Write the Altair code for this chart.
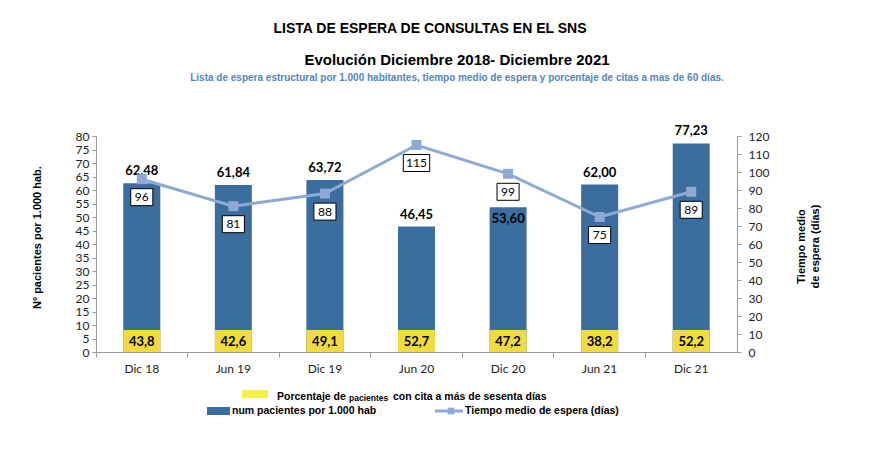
import altair as alt
import pandas as pd

categorias = ["Dic 18", "Jun 19", "Dic 19", "Jun 20", "Dic 20", "Jun 21", "Dic 21"]
pacientes = [62.48, 61.84, 63.72, 46.45, 53.60, 62.00, 77.23]
tiempo = [96, 81, 88, 115, 99, 75, 89]
porcentaje = [43.8, 42.6, 49.1, 52.7, 47.2, 38.2, 52.2]

df = pd.DataFrame({
    "cat": categorias,
    "pac": pacientes,
    "t": tiempo,
    "pct": porcentaje,
})
df["pac_lbl"] = [f"{v:.2f}".replace(".", ",") for v in pacientes]
df["pct_lbl"] = [f"{v:.1f}".replace(".", ",") for v in porcentaje]
df["t_lbl"] = [str(v) for v in tiempo]

BAR = "#3B6E9F"
YEL = "#F2DB3C"
LINE = "#8EA9D3"
AXC = "#9A9A9A"
LBLF = "Lato"
TXTF = "Liberation Sans"

xenc = alt.X("cat:N", sort=categorias, title=None,
             scale=alt.Scale(paddingInner=0, paddingOuter=0),
             axis=alt.Axis(labelAngle=0, labelFont=LBLF, labelFontSize=12, labelColor="#222",
                           labelPadding=6, domainColor=AXC, tickColor=AXC, tickSize=5,
                           bandPosition=0, grid=False))

yleft = alt.Y("pac:Q", scale=alt.Scale(domain=[0, 80]),
              axis=alt.Axis(values=list(range(0, 81, 5)), title="Nº pacientes por 1.000 hab.",
                            titleFont=TXTF, titleFontSize=11, titleFontWeight="bold",
                            titleColor="#000", titleAngle=270, titleX=-59, titleY=101,
                            titleAlign="center", titleBaseline="middle",
                            labelFont=LBLF, labelFontSize=12, labelColor="#222",
                            domainColor=AXC, tickColor=AXC, tickSize=4, grid=False, labelPadding=3))

base = alt.Chart(df)

bars = base.mark_bar(color=BAR, size=37).encode(x=xenc, y=yleft)
bar_txt = base.transform_filter(alt.datum.cat != "Dic 20").mark_text(
    font=LBLF, fontSize=13, fontWeight="bold", color="#000", baseline="bottom", dy=-5
).encode(x=xenc, y=yleft, text="pac_lbl:N")
bar_txt_in = base.transform_filter(alt.datum.cat == "Dic 20").mark_text(
    font=LBLF, fontSize=13, fontWeight="bold", color="#000", baseline="top", dy=6
).encode(x=xenc, y=yleft, text="pac_lbl:N")

yel_box = base.mark_bar(color=YEL, size=37).encode(
    x=xenc, y=alt.value(194), y2=alt.value(216))
yel_txt = base.mark_text(font=LBLF, fontSize=13, fontWeight="bold", color="#000").encode(
    x=xenc, y=alt.value(206), text="pct_lbl:N")

left = alt.layer(bars, yel_box, bar_txt, bar_txt_in, yel_txt)

yright = alt.Y("t:Q", scale=alt.Scale(domain=[0, 120]),
               axis=alt.Axis(orient="right", values=list(range(0, 121, 10)),
                             title=["Tiempo medio", "de espera (días)"],
                             titleFont=TXTF, titleFontSize=11, titleFontWeight="bold",
                             titleColor="#000", titleAngle=270, titleX=64, titleY=110,
                             titleAlign="center", titleBaseline="middle", titleLineHeight=14,
                             labelFont=LBLF, labelFontSize=12, labelColor="#222",
                             domainColor=AXC, tickColor=AXC, tickSize=4, grid=False,
                             labelPadding=7))

line = base.mark_line(color=LINE, strokeWidth=3).encode(x=xenc, y=yright)
pts = base.mark_square(color=LINE, size=100, opacity=1).encode(x=xenc, y=yright)

narrow = "M-1.3,-1L1.3,-1L1.3,1L-1.3,1Z"
wide = "M-1.55,-1L1.55,-1L1.55,1L-1.55,1Z"
boxes = base.mark_point(filled=True, fill="white", stroke="#000", strokeWidth=1, opacity=1,
                        size=289, yOffset=18).encode(
    x=xenc, y=yright,
    shape=alt.condition(alt.datum.t >= 100, alt.value(wide), alt.value(narrow)))
box_txt = base.mark_text(font=LBLF, fontSize=12, color="#000", yOffset=18).encode(
    x=xenc, y=yright, text="t_lbl:N")

right = alt.layer(line, pts, boxes, box_txt)

one = alt.Data(values=[{"a": 1}])

def txt(s, x, y, size, color="#000", align="center", weight="bold"):
    return alt.Chart(one).mark_text(text=s, font=TXTF, fontSize=size, fontWeight=weight,
                                    color=color, align=align, baseline="middle").encode(
        x=alt.value(x), y=alt.value(y))

titles = alt.layer(
    txt("LISTA DE ESPERA DE CONSULTAS EN EL SNS", 334, -107, 14),
    txt("Evolución Diciembre 2018- Diciembre 2021", 361, -76, 15),
    txt("Lista de espera estructural por 1.000 habitantes, tiempo medio de espera y porcentaje de citas a mas de 60 días.",
        361, -58, 10, color="#5585B8"),
    alt.Chart(one).mark_rect(color="#F5F04A").encode(
        x=alt.value(146), x2=alt.value(172), y=alt.value(254), y2=alt.value(262)),
    txt("Porcentaje de", 181, 261, 10.5, align="left"),
    txt("pacientes", 253, 261.5, 8.5, align="left"),
    txt("con cita a más de  sesenta días", 297, 261, 10.5, align="left"),
    alt.Chart(one).mark_rect(color=BAR).encode(
        x=alt.value(111), x2=alt.value(134), y=alt.value(271), y2=alt.value(279)),
    txt("num pacientes por 1.000 hab", 136, 275, 10.5, align="left"),
    alt.Chart(one).mark_rule(color=LINE, strokeWidth=3).encode(
        x=alt.value(339), x2=alt.value(367), y=alt.value(275)),
    alt.Chart(one).mark_square(color=LINE, size=45, opacity=1).encode(
        x=alt.value(355), y=alt.value(275)),
    txt("Tiempo medio de espera (días)", 369, 275, 10.5, align="left"),
)

chart = alt.layer(left, right, titles).resolve_scale(y="independent").properties(
    width=641, height=216,
    autosize=alt.AutoSizeParams(type="none"),
    padding={"left": 88, "top": 128, "right": 120, "bottom": 90},
).configure(background="white").configure_view(stroke=None)

chart.save("out.html", embed_options={"renderer": "svg", "actions": False})
